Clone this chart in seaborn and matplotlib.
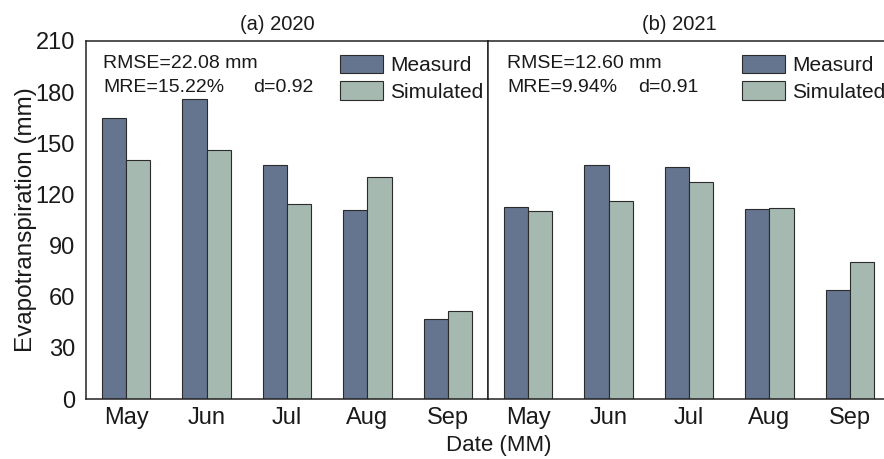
import matplotlib
matplotlib.use("Agg")
import matplotlib.pyplot as plt
import seaborn as sns
import pandas as pd

months = ["May", "Jun", "Jul", "Aug", "Sep"]
series_names = ["Measurd", "Simulated"]

measured_2020 = [165, 176, 137, 111, 47]
simulated_2020 = [140, 146, 114.5, 130.5, 51.5]
measured_2021 = [112.5, 137, 136, 111.5, 64]
simulated_2021 = [110.5, 116, 127.5, 112, 80.5]

panel_titles = ["(a) 2020", "(b) 2021"]
rmse_text = ["RMSE=22.08 mm", "RMSE=12.60 mm"]
mre_text = ["MRE=15.22%", "MRE=9.94%"]
d_text = ["d=0.92", "d=0.91"]
y_ticks = [0, 30, 60, 90, 120, 150, 180, 210]

colors = {"Measurd": "#66758f", "Simulated": "#a6b9b0"}

sns.set_theme(style="white")
plt.rcParams["font.family"] = ["Liberation Sans", "DejaVu Sans"]

W, H = 884, 459
fig = plt.figure(figsize=(W / 100, H / 100), dpi=100)

bottom = (H - 399) / H
height = 358 / H
ax_left = fig.add_axes([86 / W, bottom, 402 / W, height])
ax_right = fig.add_axes([488 / W, bottom, 402 / W, height])


def long_frame(meas, sim):
    return pd.DataFrame({
        "Month": months * 2,
        "Type": [series_names[0]] * len(months) + [series_names[1]] * len(months),
        "ET": list(meas) + list(sim),
    })


panels = [
    (ax_left, long_frame(measured_2020, simulated_2020)),
    (ax_right, long_frame(measured_2021, simulated_2021)),
]

text_color = "#1a1a1a"
stats_x = [0.042, 0.047]
d_x = [0.415, 0.373]

for i, (ax, df) in enumerate(panels):
    sns.barplot(data=df, x="Month", y="ET", hue="Type", order=months,
                hue_order=series_names, palette=colors, saturation=1, width=0.6,
                edgecolor="#2b2b2b", linewidth=0.8, ax=ax, legend=False)
    ax.set_xlim(-0.5, 4.5)
    ax.set_ylim(0, 210)
    ax.set_yticks(y_ticks)
    ax.set_xlabel("")
    ax.set_ylabel("")
    for side in ["left", "right", "top", "bottom"]:
        ax.spines[side].set_visible(True)
        ax.spines[side].set_color("#222222")
        ax.spines[side].set_linewidth(1.1)
    ax.tick_params(axis="x", direction="in", length=5, width=1, colors="#222222",
                   labelsize=17, labelcolor=text_color, pad=6)
    ax.text(0.475, 1.0196, panel_titles[i], transform=ax.transAxes,
            ha="center", va="bottom", fontsize=14.5, color=text_color)
    ax.text(stats_x[i], 0.9385, rmse_text[i], transform=ax.transAxes,
            ha="left", va="center", fontsize=14, color=text_color)
    ax.text(stats_x[i], 0.8715, mre_text[i], transform=ax.transAxes,
            ha="left", va="center", fontsize=14, color=text_color)
    ax.text(d_x[i], 0.8715, d_text[i], transform=ax.transAxes,
            ha="left", va="center", fontsize=14, color=text_color)
    handles = [plt.Rectangle((0, 0), 1, 1, facecolor=colors[n], edgecolor="#2b2b2b",
                             linewidth=0.8) for n in series_names]
    ax.legend(handles, series_names, loc="upper left",
              bbox_to_anchor=(0.632, 0.962),
              frameon=False, fontsize=15, handlelength=2.07, handleheight=1.0,
              handletextpad=0.35, labelspacing=0.3, borderaxespad=0, borderpad=0,
              labelcolor=text_color)

ax_left.tick_params(axis="y", direction="out", length=6, width=1, colors="#222222",
                    labelsize=17, labelcolor=text_color, pad=2)
ax_left.set_ylabel("Evapotranspiration (mm)", fontsize=17.5, color=text_color, labelpad=-1)

ax_right.tick_params(axis="y", direction="in", length=6, width=1, colors="#222222",
                     labelleft=False)

fig.text(499 / W, 1 - 445 / H, "Date (MM)", ha="center", va="center",
         fontsize=16, color=text_color)

fig.savefig("out.png", dpi=100, facecolor="white")
